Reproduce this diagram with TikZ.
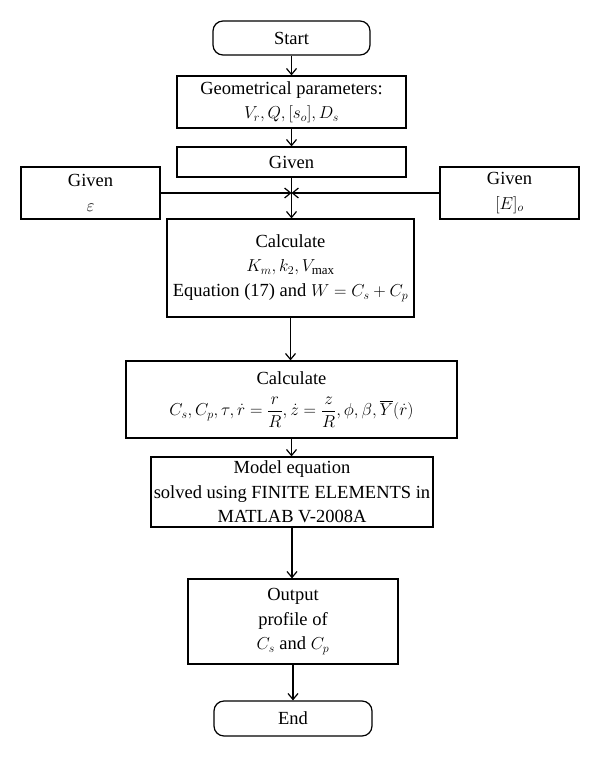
\documentclass[tikz,border=0pt]{standalone}
\usepackage{fontspec}
\usepackage{amsmath}
\setmainfont{Liberation Serif}
\usetikzlibrary{arrows.meta}
\begin{document}
\begin{tikzpicture}[x=1pt,y=-1pt,
  every node/.style={font=\fontsize{18.5}{24.5}\selectfont},
  box/.style={draw, line width=1.2pt, align=center, inner sep=0pt},
  term/.style={box, rounded corners=10pt},
  arr/.style={draw, line width=1.2pt, -{Straight Barb[length=6pt,width=10pt,line width=1.2pt]}}
]
\useasboundingbox (0,0) rectangle (600,757);
\node[term, minimum width=157pt, minimum height=34pt] (start) at (291.5,38) {Start};
\node[box, minimum width=229pt, minimum height=52pt] (geom) at (291.5,102)
  {Geometrical parameters:\\ $V_r, Q, [s_o], D_s$};
\node[box, minimum width=229pt, minimum height=30pt] (given) at (291.5,162) {Given};
\node[box, minimum width=139pt, minimum height=52pt] (eps) at (90.5,193) {Given\\ $\varepsilon$};
\node[box, minimum width=139pt, minimum height=52pt] (E) at (509.5,193) {Given\\ $[E]_o$};
\node[box, minimum width=247pt, minimum height=98pt] (calc1) at (290.5,268)
  {Calculate\\ $K_m, k_2, V_{\max}$\\ Equation (17) and $W = C_s + C_p$};
\node[box, minimum width=331pt, minimum height=77pt] (calc2) at (291.5,399.5)
  {Calculate\\[7pt] $C_s, C_p, \tau, \dot r = \dfrac{r}{R}, \dot z = \dfrac{z}{R}, \phi, \beta, \overline{Y}(\dot r)$};
\node[box, minimum width=282pt, minimum height=70pt] (model) at (292,492)
  {Model equation\\ solved using FINITE ELEMENTS in\\ MATLAB V-2008A};
\node[box, minimum width=210pt, minimum height=85pt] (output) at (293,621.5)
  {Output\\ profile of\\ $C_s$ and $C_p$};
\node[term, minimum width=158pt, minimum height=35pt] (end) at (293,718.5) {End};
\coordinate (meet) at (291.5,193);
\draw[arr] (start) -- (geom);
\draw[arr] (geom) -- (given);
\draw[arr] (given.south) -- (given.south |- calc1.north);
\draw[arr] (eps.east) -- (meet);
\draw[arr] (E.west) -- (meet);
\draw[arr] (calc1.south) -- (calc1.south |- calc2.north);
\draw[arr] (calc2.south) -- (calc2.south |- model.north);
\draw[arr] (model.south) -- (model.south |- output.north);
\draw[arr] (output.south) -- (output.south |- end.north);
\end{tikzpicture}
\end{document}
